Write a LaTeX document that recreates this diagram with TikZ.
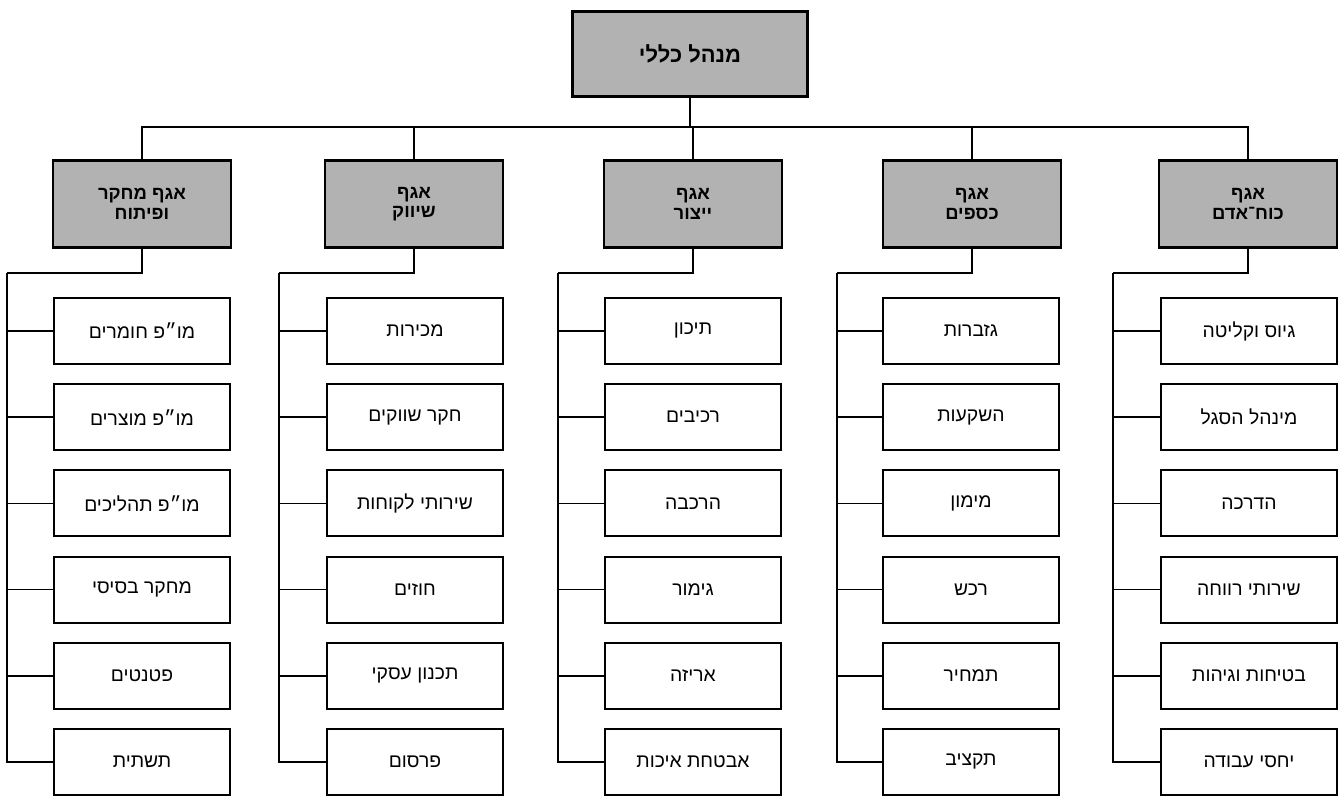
\documentclass[tikz,border=0pt]{standalone}
\usepackage{fontspec}
\newfontfamily\hebfont[Script=Hebrew]{Liberation Sans}
\TeXXeTstate=1
\newcommand{\heb}[1]{\beginR #1\endR}
\tikzset{
  head/.style={draw, line width=1.3pt, fill=black!30, minimum width=4.7cm, minimum height=1.7cm,
    font=\hebfont\bfseries\fontsize{12.5}{14}\selectfont},
  dept/.style={draw, line width=1.6pt, fill=black!30, minimum width=3.56cm, minimum height=1.74cm,
    align=center, font=\hebfont\bfseries\fontsize{10.5}{11}\selectfont},
  unit/.style={draw, line width=1.1pt, minimum width=3.52cm, minimum height=1.32cm,
    font=\hebfont\fontsize{11}{13}\selectfont},
  link/.style={line width=0.95pt}
}
\begin{document}
\begin{tikzpicture}[x=0.02cm, y=-0.02cm]
  \useasboundingbox (0,0) rectangle (1342,798);
  \node[head] (gm) at (690,54) {\heb{מנהל כללי}};
  \coordinate (bus) at (690,127);
  \draw[link] (gm.south) -- (bus);
  % departments, each with the knee of its trunk
  \foreach \i/\x/\name in {1/142/{\heb{אגף מחקר}\\\heb{ופיתוח}},
      2/414/{\heb{אגף}\\\heb{שיווק}}, 3/693/{\heb{אגף}\\\heb{ייצור}},
      4/972/{\heb{אגף}\\\heb{כספים}}, 5/1248/{\heb{אגף}\\\heb{כוח־אדם}}} {
    \node[dept] (d\i) at (\x,204) {\name};
    \draw[link] (d\i.north) |- (bus);
    \coordinate (k\i) at (\x-135,273);
    \draw[link] (d\i.south) |- (k\i);
  }
  % units
  \foreach \j/\txt in {1/מו״פ חומרים, 2/מו״פ מוצרים, 3/מו״פ תהליכים, 4/מחקר בסיסי, 5/פטנטים, 6/תשתית}
    \node[unit] (s1\j) at (142,{331+86.2*(\j-1)}) {\heb{\txt}};
  \foreach \j/\txt in {1/מכירות, 2/חקר שווקים, 3/שירותי לקוחות, 4/חוזים, 5/תכנון עסקי, 6/פרסום}
    \node[unit] (s2\j) at (415,{331+86.2*(\j-1)}) {\heb{\txt}};
  \foreach \j/\txt in {1/תיכון, 2/רכיבים, 3/הרכבה, 4/גימור, 5/אריזה, 6/אבטחת איכות}
    \node[unit] (s3\j) at (693,{331+86.2*(\j-1)}) {\heb{\txt}};
  \foreach \j/\txt in {1/גזברות, 2/השקעות, 3/מימון, 4/רכש, 5/תמחיר, 6/תקציב}
    \node[unit] (s4\j) at (971,{331+86.2*(\j-1)}) {\heb{\txt}};
  \foreach \j/\txt in {1/גיוס וקליטה, 2/מינהל הסגל, 3/הדרכה, 4/שירותי רווחה, 5/בטיחות וגיהות, 6/יחסי עבודה}
    \node[unit] (s5\j) at (1249,{331+86.2*(\j-1)}) {\heb{\txt}};
  \foreach \i in {1,...,5}
    \foreach \j in {1,...,6}
      \draw[link] (k\i) |- (s\i\j.west);
\end{tikzpicture}
\end{document}
